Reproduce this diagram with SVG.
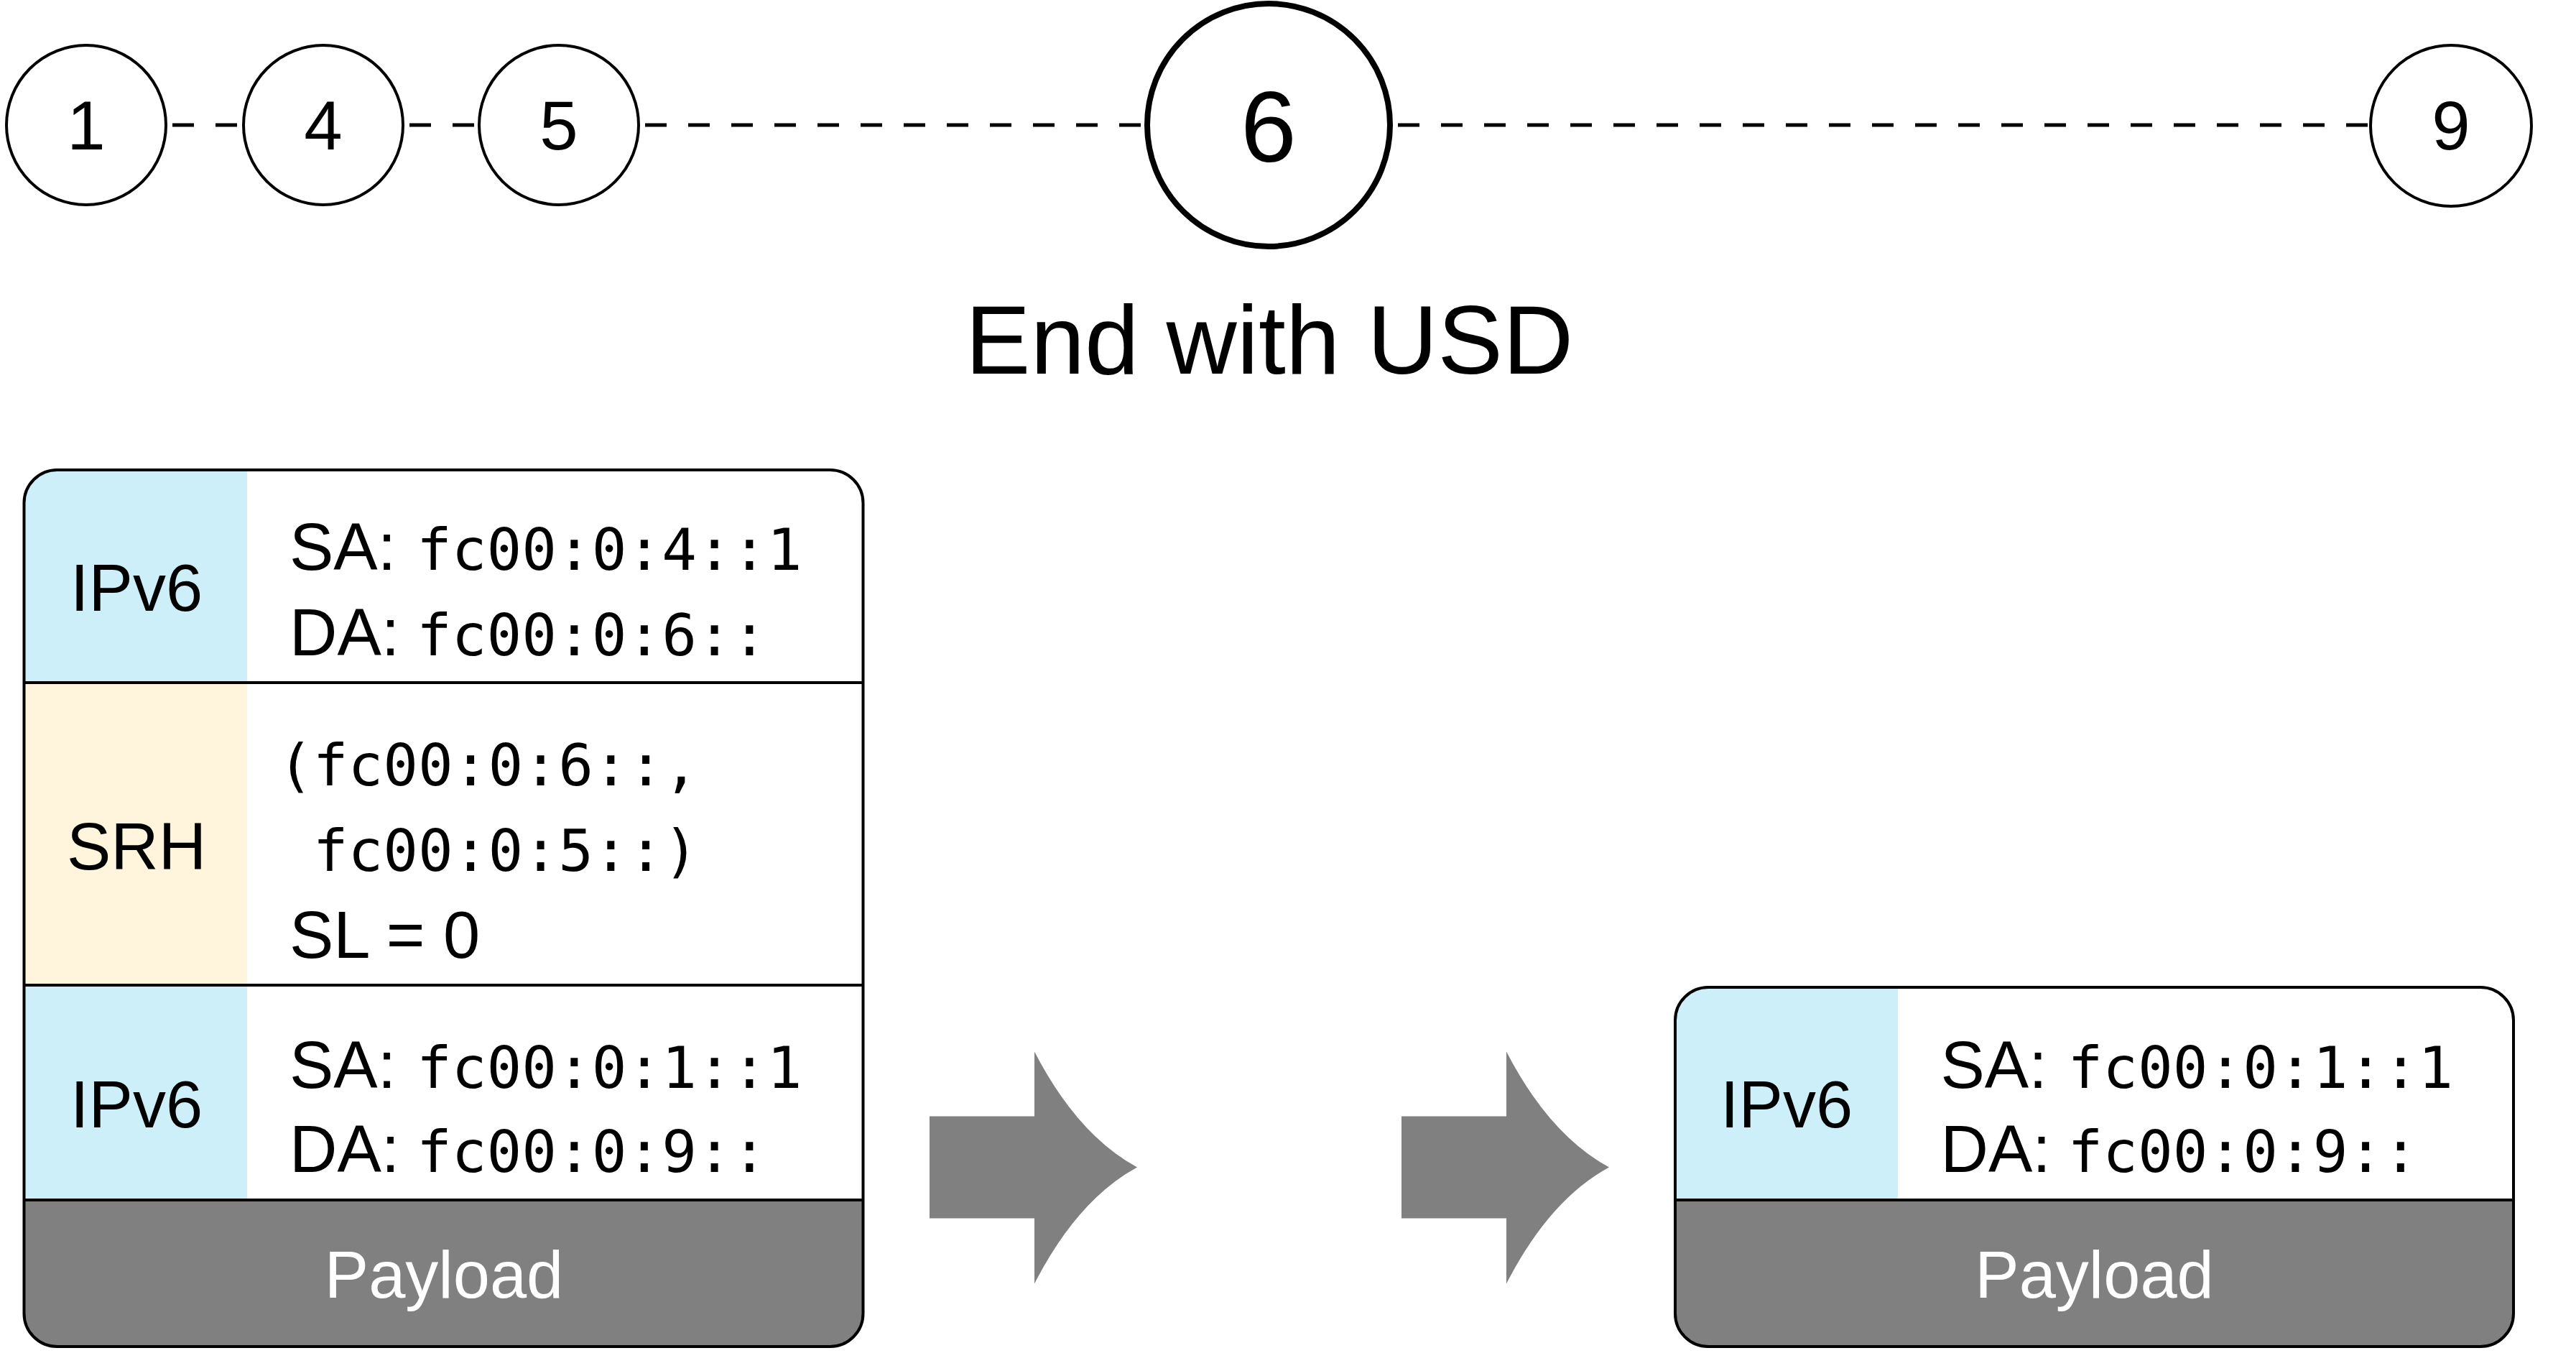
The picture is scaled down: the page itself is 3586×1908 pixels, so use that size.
<svg xmlns="http://www.w3.org/2000/svg" width="3586" height="1908" viewBox="0 0 3586 1908">
<style>
.node{fill:#fff;stroke:#000;stroke-width:4}
.big{stroke-width:8}
.num{font-family:"Liberation Sans",Arial,sans-serif;font-size:96px;text-anchor:middle;fill:#000}
.num6{font-size:140px}
.title{font-family:"Liberation Sans",Arial,sans-serif;font-size:136px;text-anchor:middle;fill:#000}
.dash{stroke:#000;stroke-width:5;stroke-dasharray:30 30;fill:none}
.lbl{font-family:"Liberation Sans",Arial,sans-serif;font-size:92px;fill:#000}
.mid{text-anchor:middle}
.mono{font-family:"DejaVu Sans Mono","Liberation Mono",monospace;font-size:81px;fill:#000}
.pay{font-family:"Liberation Sans",Arial,sans-serif;font-size:92px;fill:#fff;text-anchor:middle}
.ipv6{fill:#cceff9}
.srh{fill:#fef5dc}
.gray{fill:#808080}
.div{stroke:#000;stroke-width:4}
.outline{fill:none;stroke:#000;stroke-width:4}
.arrow{fill:#808080}
</style>
<defs>
<clipPath id="clipL"><rect x="33.5" y="654" width="1168" height="1220" rx="46"/></clipPath>
<clipPath id="clipR"><rect x="2332" y="1374" width="1167" height="500" rx="46"/></clipPath>
<path id="arr" d="M0,-71 H146 V-161 Q206,-45 289,0 Q206,45 146,162 V71 H0 Z"/>
</defs>
<rect width="3586" height="1908" fill="#fff"/>
<g id="connectors">
<line class="dash" x1="120" y1="174" x2="450" y2="174"/>
<line class="dash" x1="450" y1="174" x2="778" y2="174"/>
<line class="dash" x1="778" y1="174" x2="1766" y2="174"/>
<line class="dash" x1="1766" y1="174" x2="3412" y2="174"/>
</g>
<g id="node1"><circle class="node" cx="120" cy="174" r="111"/><text class="num" x="120" y="208">1</text></g>
<g id="node4"><circle class="node" cx="450" cy="174" r="111"/><text class="num" x="450" y="208">4</text></g>
<g id="node5"><circle class="node" cx="778" cy="174" r="111"/><text class="num" x="778" y="208">5</text></g>
<g id="node6"><circle class="node big" cx="1766" cy="174" r="169"/><text class="num num6" x="1766" y="225">6</text></g>
<g id="node9"><circle class="node" cx="3412" cy="175" r="112"/><text class="num" x="3412" y="208">9</text></g>
<g id="label-end"><text class="title" x="1767" y="520">End with USD</text></g>
<g id="packet-in">
<g clip-path="url(#clipL)">
<rect x="33.5" y="654" width="1168" height="1220" fill="#fff"/>
<rect class="ipv6" x="30" y="650" width="314" height="300"/>
<rect class="srh" x="30" y="950" width="314" height="421"/>
<rect class="ipv6" x="30" y="1371" width="314" height="299"/>
<rect class="gray" x="30" y="1670" width="1180" height="210"/>
</g>
<line class="div" x1="33.5" y1="950" x2="1201.5" y2="950"/>
<line class="div" x1="33.5" y1="1371" x2="1201.5" y2="1371"/>
<line class="div" x1="33.5" y1="1670" x2="1201.5" y2="1670"/>
<rect class="outline" x="33.5" y="654" width="1168" height="1220" rx="46"/>
<text class="lbl mid" x="190" y="850">IPv6</text>
<text class="lbl" x="403" y="793">SA:</text><text class="mono" x="580" y="793">fc00:0:4::1</text>
<text class="lbl" x="403" y="912">DA:</text><text class="mono" x="580" y="912">fc00:0:6::</text>
<text class="lbl mid" x="190" y="1210">SRH</text>
<text class="mono" x="387" y="1093">(fc00:0:6::,</text>
<text class="mono" x="387" y="1212" xml:space="preserve"> fc00:0:5::)</text>
<text class="lbl" x="403" y="1333">SL = 0</text>
<text class="lbl mid" x="190" y="1569">IPv6</text>
<text class="lbl" x="403" y="1514">SA:</text><text class="mono" x="580" y="1514">fc00:0:1::1</text>
<text class="lbl" x="403" y="1631">DA:</text><text class="mono" x="580" y="1631">fc00:0:9::</text>
<text class="pay" x="618" y="1806">Payload</text>
</g>
<g id="arrow1"><use href="#arr" class="arrow" x="1294" y="1624.5"/></g>
<g id="arrow2"><use href="#arr" class="arrow" x="1951" y="1624.5"/></g>
<g id="packet-out">
<g clip-path="url(#clipR)">
<rect x="2332" y="1374" width="1167" height="500" fill="#fff"/>
<rect class="ipv6" x="2328" y="1370" width="314" height="300"/>
<rect class="gray" x="2328" y="1670" width="1180" height="210"/>
</g>
<line class="div" x1="2332" y1="1670" x2="3499" y2="1670"/>
<rect class="outline" x="2332" y="1374" width="1167" height="500" rx="46"/>
<text class="lbl mid" x="2487" y="1569">IPv6</text>
<text class="lbl" x="2701.5" y="1514">SA:</text><text class="mono" x="2878.5" y="1514">fc00:0:1::1</text>
<text class="lbl" x="2701.5" y="1631">DA:</text><text class="mono" x="2878.5" y="1631">fc00:0:9::</text>
<text class="pay" x="2915.5" y="1806">Payload</text>
</g>
</svg>
